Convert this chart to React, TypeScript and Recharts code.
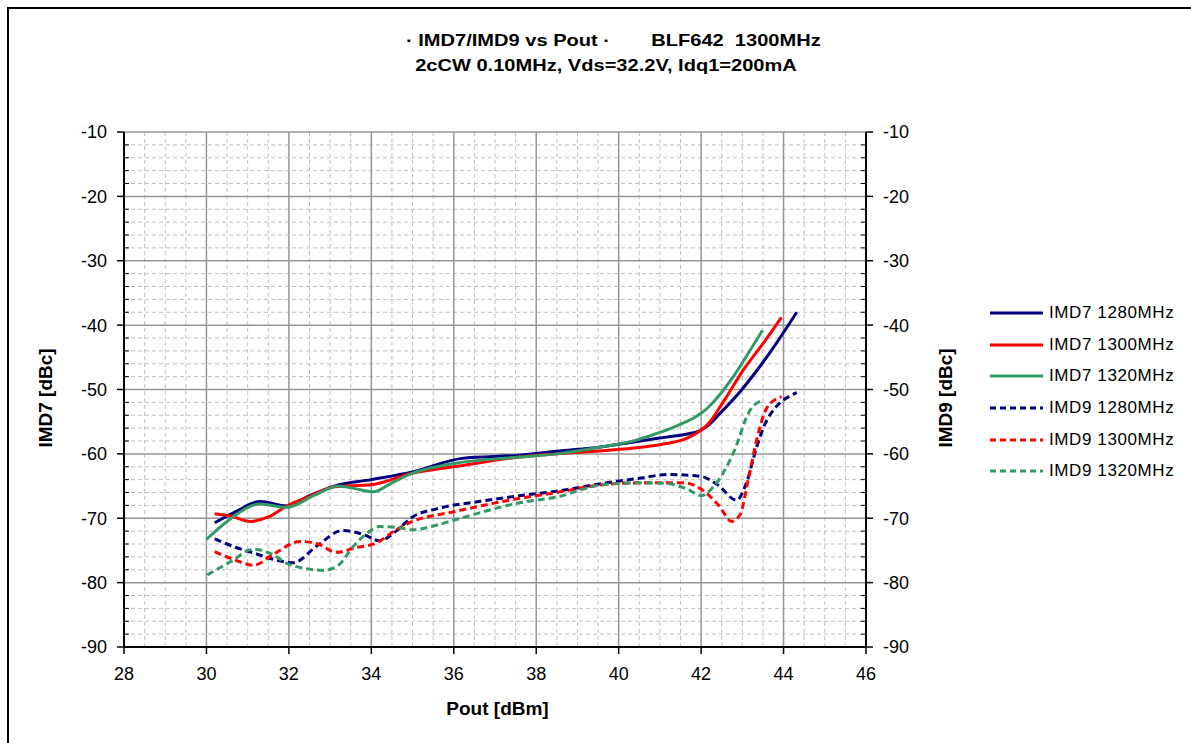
import React from 'react';
import { LineChart, Line, XAxis, YAxis, CartesianGrid, ReferenceLine } from 'recharts';

// ---------- data ----------
const imd7_1280_x = [30.2, 30.7, 31.3, 31.95, 32.5, 33.1, 34.0, 35.0, 36.2, 37.6, 38.5, 39.6, 40.4, 41.16, 41.6, 42.0, 42.2, 42.46, 42.95, 43.6, 44.32];
const imd7_1280_y = [-70.7, -69.0, -67.4, -68.1, -66.5, -65.0, -64.0, -62.8, -60.7, -60.2, -59.6, -58.9, -58.1, -57.4, -57.0, -56.3, -55.4, -53.7, -50.3, -44.9, -38.0];

const imd7_1300_x = [30.2, 30.6, 31.06, 31.5, 31.95, 32.5, 33.1, 34.0, 35.0, 36.0, 37.6, 38.5, 39.6, 40.5, 41.16, 41.65, 42.0, 42.15, 42.3, 42.45, 42.62, 43.02, 43.51, 43.95];
const imd7_1300_y = [-69.3, -69.7, -70.5, -69.8, -68.1, -66.6, -65.1, -64.8, -63.0, -62.0, -60.5, -60.0, -59.5, -59.0, -58.4, -57.6, -56.3, -55.5, -54.3, -52.8, -51.1, -47.0, -42.8, -38.8];

const imd7_1320_x = [30.0, 30.5, 31.3, 31.95, 32.6, 33.2, 33.6, 34.05, 34.5, 35.0, 36.0, 37.6, 38.5, 39.6, 40.4, 40.8, 41.2, 41.6, 41.8, 42.0, 42.2, 42.4, 42.78, 43.19, 43.49];
const imd7_1320_y = [-73.3, -70.5, -67.8, -68.3, -66.5, -65.0, -65.4, -65.9, -64.5, -63.0, -61.5, -60.5, -60.0, -58.9, -57.9, -57.1, -56.2, -55.1, -54.5, -53.7, -52.6, -51.2, -48.0, -43.9, -40.8];

const imd9_1280_x = [30.2, 30.7, 31.14, 32.1, 32.7, 33.3, 33.8, 34.2, 34.6, 35.0, 35.6, 36.5, 37.6, 38.5, 39.6, 40.5, 41.2, 42.0, 42.4, 42.86, 43.1, 43.35, 43.6, 44.32];
const imd9_1280_y = [-73.2, -74.5, -75.4, -76.9, -74.2, -71.9, -72.5, -73.5, -72.0, -69.8, -68.5, -67.5, -66.5, -65.8, -64.6, -63.8, -63.2, -63.5, -64.8, -67.2, -64.5, -58.9, -54.7, -50.5];

const imd9_1300_x = [30.2, 30.7, 31.14, 31.6, 32.27, 32.7, 33.16, 33.6, 34.13, 34.6, 35.0, 36.0, 37.6, 38.5, 39.6, 40.5, 41.57, 42.13, 42.45, 42.74, 42.94, 43.15, 43.35, 43.59, 43.95];
const imd9_1300_y = [-75.2, -76.5, -77.3, -75.7, -73.6, -74.0, -75.3, -74.6, -73.8, -71.8, -70.5, -69.0, -66.9, -66.0, -64.8, -64.5, -64.5, -66.1, -68.2, -70.5, -69.5, -63.8, -57.8, -52.9, -51.1];

const imd9_1320_x = [30.02, 30.6, 31.14, 31.6, 31.95, 32.4, 32.84, 33.2, 33.56, 33.9, 34.2, 34.6, 35.0, 35.5, 36.0, 37.6, 38.5, 39.6, 40.5, 41.16, 41.7, 42.0, 42.3, 42.78, 43.19, 43.49];
const imd9_1320_y = [-78.8, -76.7, -74.8, -75.6, -77.0, -77.8, -78.1, -77.3, -74.4, -72.3, -71.3, -71.4, -71.8, -71.2, -70.3, -67.6, -66.7, -64.8, -64.5, -64.6, -65.6, -66.5, -65.1, -59.9, -53.2, -51.7];

const xTicks = [28, 30, 32, 34, 36, 38, 40, 42, 44, 46];
const yTicks = [-90, -80, -70, -60, -50, -40, -30, -20, -10];
const xMinor = [28.5, 29, 29.5, 30.5, 31, 31.5, 32.5, 33, 33.5, 34.5, 35, 35.5, 36.5, 37, 37.5, 38.5, 39, 39.5, 40.5, 41, 41.5, 42.5, 43, 43.5, 44.5, 45, 45.5];
const yMinor = [-88, -86, -84, -82, -78, -76, -74, -72, -68, -66, -64, -62, -58, -56, -54, -52, -48, -46, -44, -42, -38, -36, -34, -32, -28, -26, -24, -22, -18, -16, -14, -12];

const titleLine1a = '\u00b7 IMD7/IMD9 vs Pout \u00b7';
const titleLine1b = 'BLF642  1300MHz';
const titleLine2 = '2cCW 0.10MHz, Vds=32.2V, Idq1=200mA';
const xTitle = 'Pout [dBm]';
const yTitleLeft = 'IMD7 [dBc]';
const yTitleRight = 'IMD9 [dBc]';

const zip = (xs: number[], ys: number[]) => xs.map((x, i) => ({ x, y: ys[i] }));

const series = [
  { name: 'IMD7 1280MHz', color: '#000080', dashed: false, data: zip(imd7_1280_x, imd7_1280_y) },
  { name: 'IMD7 1300MHz', color: '#FF0000', dashed: false, data: zip(imd7_1300_x, imd7_1300_y) },
  { name: 'IMD7 1320MHz', color: '#339966', dashed: false, data: zip(imd7_1320_x, imd7_1320_y) },
  { name: 'IMD9 1280MHz', color: '#000080', dashed: true, data: zip(imd9_1280_x, imd9_1280_y) },
  { name: 'IMD9 1300MHz', color: '#FF0000', dashed: true, data: zip(imd9_1300_x, imd9_1300_y) },
  { name: 'IMD9 1320MHz', color: '#339966', dashed: true, data: zip(imd9_1320_x, imd9_1320_y) },
];

const FONT = "'Liberation Sans', Arial, sans-serif";
const W = 1191;
const H = 743;

const titleStyle: React.CSSProperties = {
  position: 'absolute',
  fontWeight: 'bold',
  fontSize: 17,
  lineHeight: '25px',
  whiteSpace: 'pre',
  color: '#000',
  transform: 'translateX(-50%) scaleX(1.18)',
};

export default function App() {
  return (
    <div style={{ position: 'absolute', left: 0, top: 0, width: W, height: H, background: '#fff', fontFamily: FONT, overflow: 'hidden' }}>
      <div style={{ position: 'absolute', left: 7, top: 7, width: W, height: H, borderLeft: '2px solid #000', borderTop: '2px solid #000' }} />
      <div style={{ ...titleStyle, left: 508, top: 28 }}>{titleLine1a}</div>
      <div style={{ ...titleStyle, left: 736, top: 28 }}>{titleLine1b}</div>
      <div style={{ ...titleStyle, left: 606, top: 53 }}>{titleLine2}</div>
      <div style={{ position: 'absolute', left: 0, top: 0 }}>
        <LineChart width={W} height={H} margin={{ top: 132, right: 255, bottom: 66, left: 54 }}>
          <CartesianGrid
            yAxisId="left"
            horizontalValues={yMinor}
            verticalValues={xMinor}
            stroke="#c0c0c0"
            strokeWidth={1}
            strokeDasharray="4 3"
          />
          <CartesianGrid
            yAxisId="left"
            horizontalValues={yTicks}
            verticalValues={xTicks}
            stroke="#969696"
            strokeWidth={1.5}
          />
          <XAxis
            type="number"
            dataKey="x"
            domain={[28, 46]}
            ticks={xTicks}
            allowDataOverflow
            interval={0}
            height={30}
            axisLine={{ stroke: '#000', strokeWidth: 2 }}
            tickLine={{ stroke: '#000', strokeWidth: 1.5 }}
            tickSize={7}
            tick={{ fill: '#000', fontSize: 18, fontFamily: FONT }}
            tickMargin={13}
          />
          <YAxis
            yAxisId="left"
            type="number"
            domain={[-90, -10]}
            ticks={yTicks}
            allowDataOverflow
            interval={0}
            width={70}
            axisLine={{ stroke: '#000', strokeWidth: 2 }}
            tickLine={{ stroke: '#000', strokeWidth: 1.5 }}
            tickSize={7}
            tick={{ fill: '#000', fontSize: 18, fontFamily: FONT }}
            tickMargin={10}
          />
          <YAxis
            yAxisId="right"
            orientation="right"
            type="number"
            domain={[-90, -10]}
            ticks={yTicks}
            allowDataOverflow
            interval={0}
            width={70}
            axisLine={{ stroke: '#000', strokeWidth: 2 }}
            tickLine={{ stroke: '#000', strokeWidth: 1.5 }}
            tickSize={7}
            tick={{ fill: '#000', fontSize: 18, fontFamily: FONT, textAnchor: 'start' }}
            tickMargin={10}
          />
          {yMinor.map((v) => (
            <ReferenceLine key={'lm' + v} yAxisId="left" segment={[{ x: 28, y: v }, { x: 28.12, y: v }]} stroke="#000" strokeWidth={1} />
          ))}
          {yMinor.map((v) => (
            <ReferenceLine key={'rm' + v} yAxisId="left" segment={[{ x: 45.88, y: v }, { x: 46, y: v }]} stroke="#000" strokeWidth={1} />
          ))}
          {series.map((s) => (
            <Line
              key={s.name}
              yAxisId="left"
              data={s.data}
              dataKey="y"
              name={s.name}
              type="monotoneX"
              stroke={s.color}
              strokeWidth={3}
              strokeDasharray={s.dashed ? '7 4' : undefined}
              dot={false}
              activeDot={false}
              isAnimationActive={false}
            />
          ))}
        </LineChart>
      </div>
      {/* axis titles */}
      <div style={{ position: 'absolute', left: 0, top: 698, width: 995, textAlign: 'center', fontWeight: 'bold', fontSize: 19 }}>{xTitle}</div>
      <div style={{ position: 'absolute', left: 46, top: 398, transform: 'translate(-50%, -50%) rotate(-90deg)', fontWeight: 'bold', fontSize: 19, whiteSpace: 'nowrap' }}>{yTitleLeft}</div>
      <div style={{ position: 'absolute', left: 946, top: 398, transform: 'translate(-50%, -50%) rotate(-90deg)', fontWeight: 'bold', fontSize: 19, whiteSpace: 'nowrap' }}>{yTitleRight}</div>
      {/* legend */}
      <div style={{ position: 'absolute', left: 990, top: 297.5 }}>
        {series.map((s) => (
          <div key={s.name} style={{ display: 'flex', alignItems: 'center', height: 31.6 }}>
            <svg width={56} height={10} style={{ marginRight: 3 }}>
              <line x1={0} y1={5} x2={53} y2={5} stroke={s.color} strokeWidth={3} strokeDasharray={s.dashed ? '6 4' : undefined} />
            </svg>
            <span style={{ fontSize: 17, letterSpacing: 0.6, color: '#000', whiteSpace: 'nowrap' }}>{s.name}</span>
          </div>
        ))}
      </div>
    </div>
  );
}
